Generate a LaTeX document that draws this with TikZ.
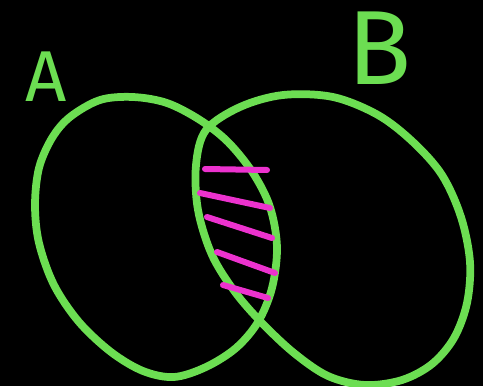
\documentclass[tikz,border=0pt]{standalone}
\usepackage{fontspec}
\setsansfont{Fira Sans}
\usetikzlibrary{positioning}
\definecolor{chalkgreen}{RGB}{108,222,82}
\definecolor{chalkpink}{RGB}{236,50,206}

\begin{document}
\begin{tikzpicture}[x=0.02cm, y=-0.02cm,
    setline/.style={draw=chalkgreen, line width=0.155cm, line join=round},
    hatchline/.style={draw=chalkpink, line width=0.12cm, line cap=round},
    setlabel/.style={text=chalkgreen, inner sep=0pt}]

% Background
\fill[black] (0,0) rectangle (483,386);
\useasboundingbox (0,0) rectangle (483,386);

% Set A
\draw[setline] plot[smooth cycle, tension=0.55] coordinates {
    (70,117) (100,100) (133,97) (167,103) (200,120) (228,142) (253,173)
    (270,207) (277,247) (272,288) (258,322) (236,348) (206,367) (174,377)
    (143,371) (111,352) (79,322) (54,285) (39,243) (35,205) (39,168)
    (52,138)};

% Set B
\draw[setline] plot[smooth cycle, tension=0.55] coordinates {
    (206,130) (240,107) (283,95) (333,97) (378,115) (413,142) (442,175)
    (461,217) (470,262) (467,303) (454,338) (432,364) (402,380) (365,385)
    (328,376) (294,353) (262,323) (235,292) (212,255) (198,210) (196,165)};

% Hatching of the intersection
\foreach \xa/\ya/\xb/\yb in {205/169/267/170, 200/193/270/208,
    207/217/272/238, 217/252/275/273, 223/285/268/298}
  \draw[hatchline] (\xa,\ya) -- (\xb,\yb);

% Labels
\node[setlabel, font=\sffamily\fontsize{41}{41}\selectfont] (labelA) at (46,77) {A};
\node[setlabel, font=\sffamily\fontsize{60}{60}\selectfont] (labelB) at (380,48) {B};

\end{tikzpicture}
\end{document}
